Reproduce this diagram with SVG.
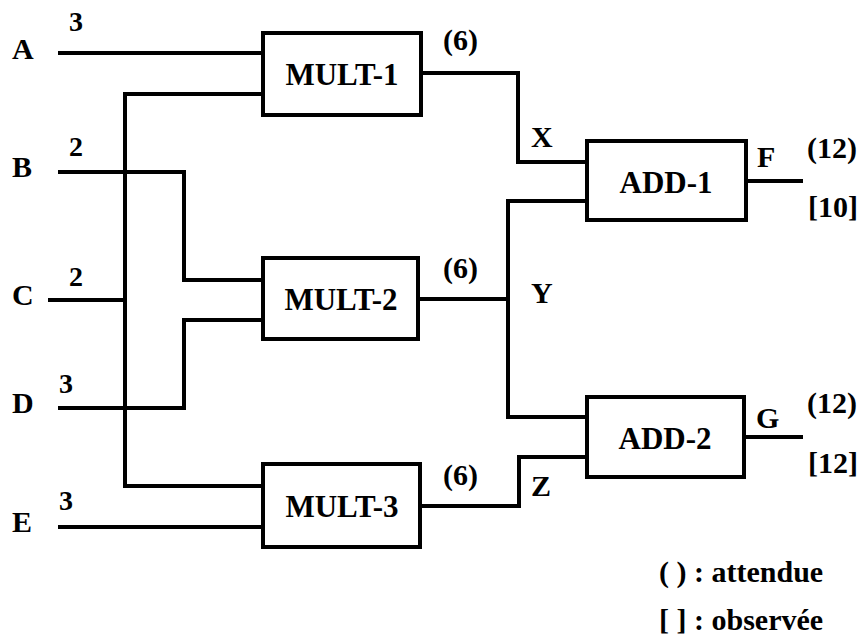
<svg xmlns="http://www.w3.org/2000/svg" width="862" height="636" viewBox="0 0 862 636">
<style>
.box{fill:#fff;stroke:#000;stroke-width:4}
.w{fill:none;stroke:#000;stroke-width:4;stroke-linejoin:miter}
.lb{font-size:31px;text-anchor:middle}
.t{font-size:30px}
.n{font-size:28px}
.lg{font-size:30px}
</style>
<rect width="862" height="636" fill="#fff"/>
<g id="connectors">
<path class="w" d="M58,53 H263"/>
<path class="w" d="M263,94 H125 V486 H263"/>
<path class="w" d="M48,300 H125"/>
<path class="w" d="M58,172 H184 V280 H263"/>
<path class="w" d="M58,408 H184 V320 H263"/>
<path class="w" d="M58,527 H263"/>
<path class="w" d="M421,73 H518 V162 H587"/>
<path class="w" d="M418,299 H508"/>
<path class="w" d="M587,201 H508 V417 H587"/>
<path class="w" d="M420,506 H519 V457 H587"/>
<path class="w" d="M746,181 H803"/>
<path class="w" d="M744,437 H803"/>
</g>
<g font-family="Liberation Serif, Tinos, DejaVu Serif, serif" font-weight="700" fill="#000">
<g id="MULT-1"><rect class="box" x="263" y="33" width="158" height="82"/><text class="lb" x="342" y="85">MULT-1</text></g>
<g id="MULT-2"><rect class="box" x="263" y="258" width="155" height="81"/><text class="lb" x="341" y="310">MULT-2</text></g>
<g id="MULT-3"><rect class="box" x="263" y="464" width="157" height="83"/><text class="lb" x="342" y="517">MULT-3</text></g>
<g id="ADD-1"><rect class="box" x="587" y="141" width="159" height="79"/><text class="lb" x="666" y="193">ADD-1</text></g>
<g id="ADD-2"><rect class="box" x="587" y="397" width="157" height="80"/><text class="lb" x="665" y="449">ADD-2</text></g>
<g id="labels">
<text class="t" x="12" y="59">A</text>
<text class="t" x="12" y="177">B</text>
<text class="t" x="12" y="305">C</text>
<text class="t" x="12" y="413">D</text>
<text class="t" x="12" y="532">E</text>
<text class="n" x="69" y="31">3</text>
<text class="n" x="69" y="156">2</text>
<text class="n" x="69" y="286">2</text>
<text class="n" x="59" y="393">3</text>
<text class="n" x="59" y="510">3</text>
<text class="t" x="443" y="50">(6)</text>
<text class="t" x="443" y="278">(6)</text>
<text class="t" x="443" y="485">(6)</text>
<text class="t" x="531" y="147">X</text>
<text class="t" x="531" y="303">Y</text>
<text class="t" x="531" y="496">Z</text>
<text class="t" x="757" y="167">F</text>
<text class="t" x="756" y="428">G</text>
<text class="t" x="807" y="158">(12)</text>
<text class="t" x="808" y="217">[10]</text>
<text class="t" x="807" y="413">(12)</text>
<text class="t" x="808" y="473">[12]</text>
<text class="lg" x="659" y="582">( ) : attendue</text>
<text class="lg" x="659" y="630">[ ] : observée</text>
</g>
</g>
</svg>
